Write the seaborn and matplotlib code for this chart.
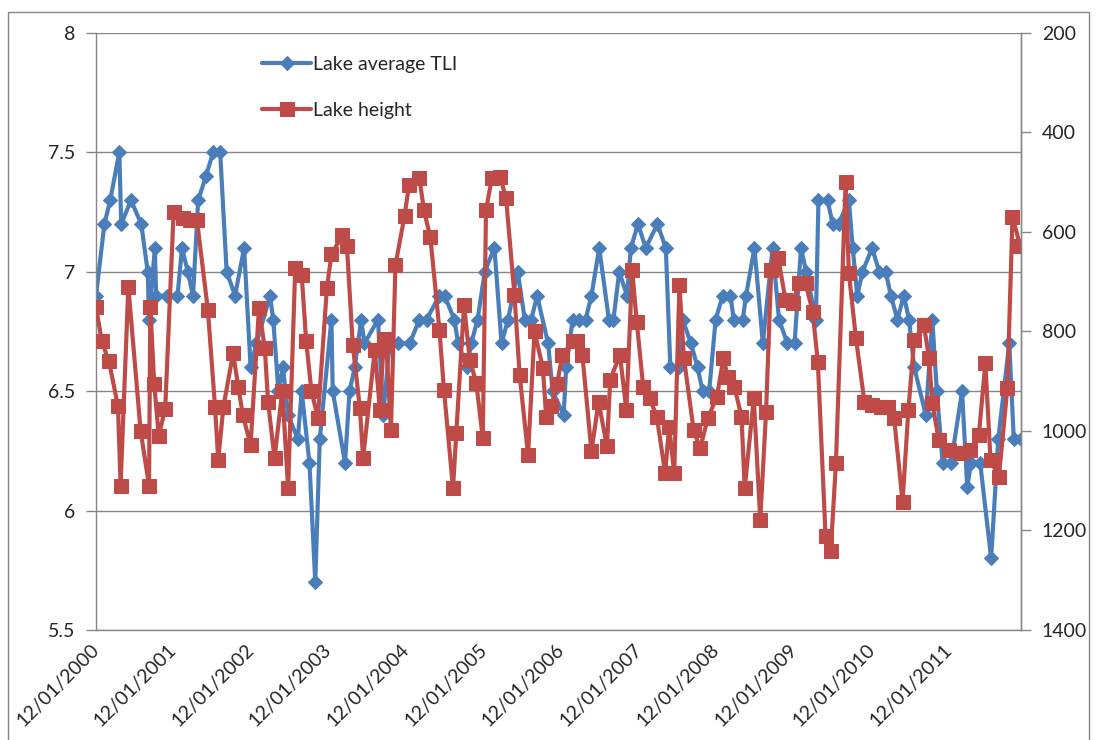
import numpy as np
import pandas as pd
import matplotlib
matplotlib.use('Agg')
import matplotlib.pyplot as plt
import matplotlib.dates as mdates
from matplotlib.patches import Rectangle
from matplotlib.ticker import FuncFormatter
import seaborn as sns

# ---------- data ----------
start_date = '2000-12-01'
end_date = '2012-11-01'
tick_years = list(range(2000, 2012))

# months after 1 Dec 2000
tli_month = [0, 1.3, 2.2, 3.6, 3.9, 5.4, 7.0, 8.0, 8.2, 9.1,
             9.3, 11.0, 12.6, 13.3, 14.2, 15.0, 15.8, 17.0, 18.1, 19.2,
             20.2, 21.5, 22.9, 23.9, 24.8, 26.9, 27.4, 28.2, 28.9, 29.7,
             31.2, 31.8, 33.0, 33.9, 34.6, 36.4, 36.6, 38.5, 39.2, 40.0,
             41.0, 41.5, 43.6, 44.4, 45.4, 46.7, 48.5, 50.0, 51.1, 53.1,
             53.9, 55.4, 56.0, 57.3, 58.0, 59.0, 60.1, 61.6, 62.7, 63.7,
             65.2, 66.3, 67.3, 68.2, 69.9, 70.6, 72.3, 72.7, 73.7, 74.7,
             75.7, 76.6, 77.8, 79.3, 80.0, 80.9, 82.1, 82.7, 83.8, 85.0,
             86.8, 88.1, 88.8, 90.2, 90.7, 92.0, 93.0, 93.8, 94.8, 95.8,
             96.9, 98.1, 98.6, 100.0, 100.5, 101.8, 103.1, 104.6, 105.6, 106.9,
             108.0, 109.0, 109.8, 111.3, 111.7, 113.1, 113.9, 114.8, 116.4, 117.0,
             117.7, 118.5, 120.0, 121.1, 122.1, 122.9, 123.9, 124.9, 125.7, 126.5,
             128.3, 129.3, 130.0, 130.9, 132.2, 133.9, 134.7, 135.3, 136.7, 138.4,
             139.5, 141.2, 141.9, 143.0]
tli_value = [6.9, 7.2, 7.3, 7.5, 7.2, 7.3, 7.2, 7.0, 6.8, 7.1,
             6.9, 6.9, 6.9, 7.1, 7.0, 6.9, 7.3, 7.4, 7.5, 7.5,
             7.0, 6.9, 7.1, 6.6, 6.7, 6.9, 6.8, 6.5, 6.6, 6.4,
             6.3, 6.5, 6.2, 5.7, 6.3, 6.8, 6.5, 6.2, 6.5, 6.6,
             6.8, 6.7, 6.8, 6.4, 6.7, 6.7, 6.7, 6.8, 6.8, 6.9,
             6.9, 6.8, 6.7, 6.6, 6.7, 6.8, 7.0, 7.1, 6.7, 6.8,
             7.0, 6.8, 6.8, 6.9, 6.7, 6.5, 6.4, 6.6, 6.8, 6.8,
             6.8, 6.9, 7.1, 6.8, 6.8, 7.0, 6.9, 7.1, 7.2, 7.1,
             7.2, 7.1, 6.6, 6.6, 6.8, 6.7, 6.6, 6.5, 6.5, 6.8,
             6.9, 6.9, 6.8, 6.8, 6.9, 7.1, 6.7, 7.1, 6.8, 6.7,
             6.7, 7.1, 7.0, 6.8, 7.3, 7.3, 7.2, 7.2, 7.3, 7.1,
             6.9, 7.0, 7.1, 7.0, 7.0, 6.9, 6.8, 6.9, 6.8, 6.6,
             6.4, 6.8, 6.5, 6.2, 6.2, 6.5, 6.1, 6.2, 6.2, 5.8,
             6.3, 6.7, 6.3, 6.3]

height_month = [0, 0.9, 2.0, 3.4, 3.8, 5.0, 6.9, 8.2, 8.4, 9.0,
                9.7, 10.7, 12.0, 13.4, 14.5, 15.6, 17.3, 18.4, 18.9, 19.7,
                21.2, 22.0, 22.7, 23.9, 25.2, 26.1, 26.6, 27.6, 28.8, 29.7,
                30.8, 31.8, 32.5, 33.3, 34.3, 35.7, 36.4, 38.1, 38.8, 39.7,
                40.8, 41.3, 43.1, 43.9, 44.5, 44.9, 45.6, 46.3, 47.7, 48.4,
                50.0, 50.7, 51.7, 53.1, 53.8, 55.2, 55.7, 56.9, 57.8, 58.8,
                59.8, 60.3, 61.2, 62.5, 63.4, 64.7, 65.5, 66.8, 67.8, 69.1,
                69.6, 70.4, 71.3, 72.1, 73.7, 74.4, 75.2, 76.6, 77.7, 79.0,
                79.5, 81.0, 82.0, 82.9, 83.6, 84.6, 85.6, 86.7, 88.0, 88.6,
                89.4, 90.2, 90.9, 92.4, 93.4, 94.6, 96.0, 97.0, 97.7, 98.7,
                99.8, 100.3, 101.7, 102.7, 103.6, 104.4, 105.5, 106.6, 107.7, 108.7,
                109.7, 110.8, 111.6, 112.8, 113.6, 114.4, 115.9, 116.4, 117.5, 118.8,
                120.0, 121.3, 122.4, 123.4, 124.7, 125.6, 126.5, 128.0, 128.8, 129.3,
                130.3, 131.9, 133.7, 135.2, 136.5, 137.5, 138.3, 139.6, 140.9, 141.7,
                142.9]
height_value = [750, 820, 860, 950, 1110, 710, 1000, 1110, 750, 905,
                1010, 955, 560, 572, 575, 575, 757, 951, 1058, 951,
                844, 911, 968, 1028, 753, 834, 941, 1055, 919, 1115,
                673, 686, 820, 919, 974, 713, 645, 606, 629, 827,
                954, 1055, 837, 958, 815, 830, 998, 666, 568, 505,
                492, 556, 611, 797, 918, 1115, 1005, 747, 857, 904,
                1015, 556, 492, 490, 532, 727, 887, 1048, 800, 874,
                971, 950, 905, 847, 820, 820, 847, 1041, 941, 1031,
                897, 847, 958, 676, 780, 911, 934, 971, 1085, 991,
                1085, 706, 854, 998, 1035, 974, 931, 854, 891, 911,
                971, 1115, 934, 1179, 961, 676, 653, 737, 743, 703,
                703, 760, 861, 1212, 1242, 1065, 499, 683, 814, 941,
                948, 951, 951, 974, 1142, 958, 817, 787, 854, 944,
                1018, 1038, 1045, 1038, 1008, 864, 1058, 1092, 914, 569,
                629]


def to_dates(months):
    return pd.Timestamp(start_date) + pd.to_timedelta(np.array(months) * 30.4375, unit='D')


tli = pd.DataFrame({'date': to_dates(tli_month), 'value': tli_value})
height = pd.DataFrame({'date': to_dates(height_month), 'value': height_value})

# ---------- style ----------
sns.set_style('white')
plt.rcParams['font.family'] = ['Lato', 'DejaVu Sans']

blue = '#4A7EBB'
red = '#BE4B48'
grey = '#868686'
text_col = '#262626'
fs = 14

fig = plt.figure(figsize=(11.01, 7.40), dpi=100)
ax = fig.add_axes([96 / 1101, 1 - 630 / 740, 925 / 1101, 597 / 740])
ax2 = ax.twinx()

sns.lineplot(data=tli, x='date', y='value', ax=ax, color=blue, marker='D',
             markersize=6.8, markeredgecolor=blue, linewidth=3, estimator=None,
             legend=False)
sns.lineplot(data=height, x='date', y='value', ax=ax2, color=red, marker='s',
             markersize=9.5, markeredgecolor=red, linewidth=3, estimator=None,
             legend=False)

# left axis
ax.set_ylim(5.5, 8)
ax.set_yticks(np.arange(5.5, 8.01, 0.5))
ax.yaxis.set_major_formatter(FuncFormatter(lambda v, p: f'{v:g}'))
ax.yaxis.grid(True, color=grey, linewidth=1)
ax.xaxis.grid(False)
ax.set_xlabel('')
ax.set_ylabel('')

# right axis (inverted)
ax2.set_ylim(1400, 200)
ax2.set_yticks(range(200, 1401, 200))
ax2.set_ylabel('')
ax2.grid(False)

# x axis
ax.set_xlim(pd.Timestamp(start_date), pd.Timestamp(end_date))
ax.set_xticks([pd.Timestamp(f'{y}-12-01') for y in tick_years])
ax.xaxis.set_major_formatter(mdates.DateFormatter('%m/%d/%Y'))

for a in (ax, ax2):
    a.spines['top'].set_visible(False)
    for s in ('left', 'right', 'bottom'):
        a.spines[s].set_color(grey)
        a.spines[s].set_linewidth(1)
    a.tick_params(direction='out', length=7, width=1, color=grey,
                  labelsize=fs, labelcolor=text_col, pad=8)
ax2.spines['left'].set_visible(False)
ax2.spines['bottom'].set_visible(False)
ax.tick_params(axis='x', pad=5)

plt.setp(ax.get_xticklabels(), rotation=45, ha='right', va='center',
         rotation_mode='anchor')

# legend
handles = [ax.lines[0], ax2.lines[0]]
leg = ax2.legend(handles, ['Lake average TLI', 'Lake height'], loc='upper left',
                 bbox_to_anchor=(0.18, 0.962), frameon=False, fontsize=fs,
                 labelspacing=1.5, handlelength=2.5, handletextpad=0.1,
                 borderpad=0, borderaxespad=0, numpoints=1)
for t in leg.get_texts():
    t.set_color(text_col)

# chart area border
fig.add_artist(Rectangle((8 / 1101, -0.05), (1089 - 8) / 1101, 1 - 12 / 740 + 0.05,
                         transform=fig.transFigure, fill=False,
                         edgecolor=grey, linewidth=1))

fig.savefig('out.png', dpi=100)
